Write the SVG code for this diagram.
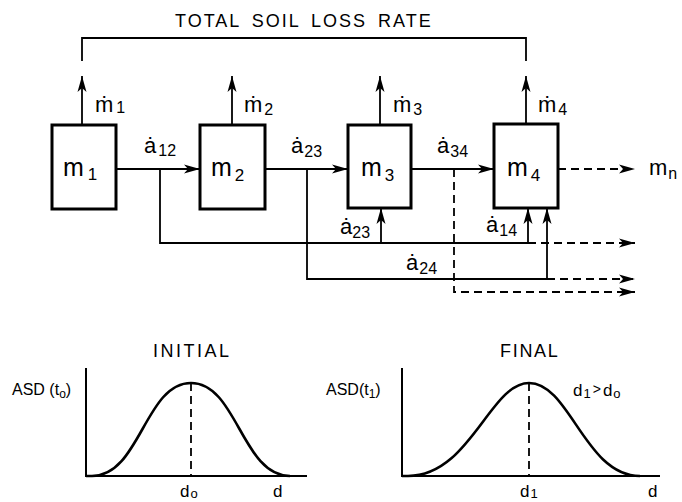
<svg xmlns="http://www.w3.org/2000/svg" width="682" height="502" viewBox="0 0 682 502">
<style>
text{font-family:"Liberation Sans","DejaVu Sans",sans-serif;fill:#000}
.box{fill:#fff;stroke:#000;stroke-width:3}
.ln{fill:none;stroke:#000;stroke-width:1.8}
.ds{fill:none;stroke:#000;stroke-width:1.8;stroke-dasharray:8 5}
.ar{marker-end:url(#ah)}
.lbl{font-size:22px}
.sub{font-size:16px}
.cap{font-size:18px}
.ax{fill:none;stroke:#000;stroke-width:2}
.crv{fill:none;stroke:#000;stroke-width:2.6}
</style>
<defs>
<marker id="ah" markerUnits="userSpaceOnUse" markerWidth="18" markerHeight="10" refX="16" refY="5" orient="auto" viewBox="0 0 18 10">
<path d="M0,0.5 L16,5 L0,9.5 L4,5 z" fill="#000"/>
</marker>
</defs>

<text class="cap" x="175" y="27" letter-spacing="2" word-spacing="4">TOTAL SOIL LOSS RATE</text>

<g id="connectors">
<path class="ln" d="M82,61 V38 H526 V61"/>
<path class="ln ar" d="M82,125 V76"/>
<path class="ln ar" d="M232,125 V76"/>
<path class="ln ar" d="M380,125 V76"/>
<path class="ln ar" d="M526,124 V76"/>
<path class="ln ar" d="M116,169 H200"/>
<path class="ln ar" d="M265,169 H348"/>
<path class="ln ar" d="M411,169 H494"/>
<path class="ds ar" d="M558,169 H635"/>
<path class="ln" d="M160,169 V243 H528"/>
<path class="ln ar" d="M381,243 V208"/>
<path class="ln ar" d="M528,243 V208"/>
<path class="ds ar" d="M528,243 H635"/>
<path class="ln" d="M307,169 V279 H547"/>
<path class="ln ar" d="M547,279 V208"/>
<path class="ds ar" d="M547,279 H635"/>
<path class="ds ar" d="M454,169 V292 H635"/>
</g>

<g id="labels">
<text class="lbl" x="95" y="112">ṁ<tspan class="sub" dx="3" dy="1">1</tspan></text>
<text class="lbl" x="244" y="112">ṁ<tspan class="sub" dx="2" dy="3">2</tspan></text>
<text class="lbl" x="393" y="112">ṁ<tspan class="sub" dx="2" dy="3">3</tspan></text>
<text class="lbl" x="538" y="112">ṁ<tspan class="sub" dx="2" dy="3">4</tspan></text>
<text class="lbl" x="144" y="153">ȧ<tspan class="sub" dx="2" dy="3">12</tspan></text>
<text class="lbl" x="291" y="153">ȧ<tspan class="sub" dx="1" dy="4">23</tspan></text>
<text class="lbl" x="437" y="153">ȧ<tspan class="sub" dx="1" dy="4">34</tspan></text>
<text class="lbl" x="340" y="234">ȧ<tspan class="sub" dx="0" dy="4">23</tspan></text>
<text class="lbl" x="486" y="232">ȧ<tspan class="sub" dx="1" dy="4">14</tspan></text>
<text class="lbl" x="406" y="270">ȧ<tspan class="sub" dx="1" dy="4">24</tspan></text>
<text class="lbl" x="649" y="175">m<tspan class="sub" dx="1" dy="4">n</tspan></text>
</g>

<g id="m1"><rect class="box" x="52" y="125" width="64" height="84"/><text x="63" y="176" font-size="25">m<tspan dx="4" dy="4" font-size="17">1</tspan></text></g>
<g id="m2"><rect class="box" x="200" y="125" width="65" height="84"/><text x="211" y="176" font-size="25">m<tspan dx="3" dy="5" font-size="17">2</tspan></text></g>
<g id="m3"><rect class="box" x="348" y="125" width="63" height="83"/><text x="361" y="176" font-size="25">m<tspan dx="3" dy="5" font-size="17">3</tspan></text></g>
<g id="m4"><rect class="box" x="494" y="124" width="64" height="84"/><text x="507" y="176" font-size="25">m<tspan dx="3" dy="5" font-size="17">4</tspan></text></g>

<g id="initial">
<text class="cap" x="153" y="357" letter-spacing="2.5">INITIAL</text>
<path class="ax" d="M86,368 V476 H307"/>
<path class="crv" d="M86,476 L92,476 C140,476 145,383 191,383 C237,383 242,476 290,476"/>
<path class="ds" d="M191,383 V476"/>
<text x="12" y="395" font-size="16">ASD (t<tspan font-size="12" dy="3">o</tspan><tspan dy="-3">)</tspan></text>
<text x="180" y="497" font-size="17">d<tspan font-size="13" dx="1" dy="1">o</tspan></text>
<text x="273" y="497" font-size="17">d</text>
</g>

<g id="final">
<text class="cap" x="500" y="357" letter-spacing="1.7">FINAL</text>
<path class="ax" d="M402,368 V476 H660"/>
<path class="crv" d="M402,476 L408,476 C470,476 490,383 529,383 C570,383 585,476 640,476"/>
<path class="ds" d="M529,383 V476"/>
<text x="326" y="395" font-size="16">ASD(t<tspan font-size="12" dy="3">1</tspan><tspan dy="-3">)</tspan></text>
<text x="573" y="396" font-size="17">d<tspan font-size="13" dx="1" dy="2">1</tspan><tspan dx="2" dy="-4" font-size="14">&gt;</tspan><tspan dx="2" dy="2">d</tspan><tspan font-size="13" dx="1" dy="2">o</tspan></text>
<text x="520" y="497" font-size="17">d<tspan font-size="13" dx="1" dy="1">1</tspan></text>
<text x="648" y="497" font-size="17">d</text>
</g>
</svg>
